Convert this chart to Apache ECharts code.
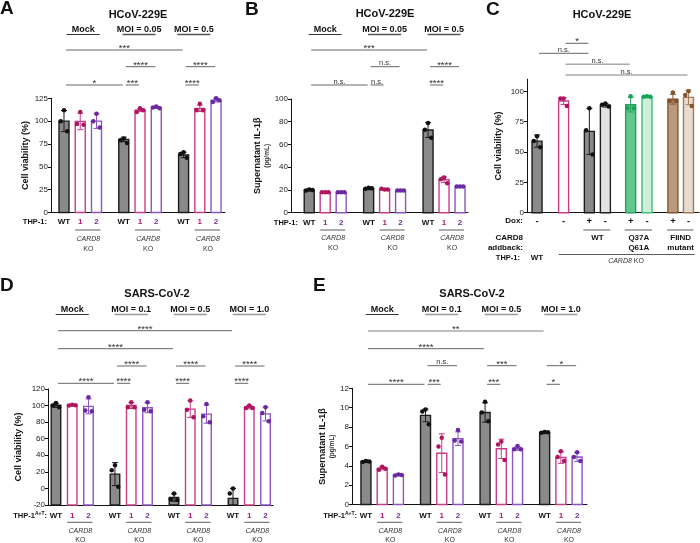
<!DOCTYPE html>
<html>
<head>
<meta charset="utf-8">
<title>CARD8 viability / IL-1b</title>
<script src="https://cdn.jsdelivr.net/npm/echarts@6/dist/echarts.min.js"></script>
<style>
  html, body { margin: 0; padding: 0; background: #fff; }
  #main { width: 700px; height: 543px; }
</style>
</head>
<body>
<div id="main"></div>
<script>
// ---------- data ----------
// A: HCoV-229E, cell viability (%)  (order: WT, KO1, KO2 per group)
const groupsA = ['Mock', 'MOI = 0.05', 'MOI = 0.5'];
const viabilityA = [100, 99.7, 100, 80, 112, 115, 63, 114, 123];
const viabilitySdA = [11.5, 9, 8, 2.5, 1.5, 1, 3, 3.5, 2];
const viabilityPtsA = [[112, 100, 89], [110, 97, 96], [108, 100, 93], [81, 79, 76], [114, 110, 112], [116, 115, 114], [66, 64, 60], [119, 112, 112], [125, 121, 123]];
const starsA = [['***', 0, 6, 0], ['****', 3, 5, 1], ['****', 6, 8, 1], ['*', 0, 3, 2], ['***', 3, 4, 2], ['****', 6, 7, 2]];

// B: HCoV-229E, supernatant IL-1β (pg/mL)
const il1bB = [20, 18, 18, 21, 20.5, 19.5, 72.7, 29, 23];
const il1bSdB = [0.6, 0.3, 0.3, 0.8, 0.5, 0.4, 6.5, 2.5, 0.5];
const il1bPtsB = [[20.5, 19.5, 20], [18, 18, 18], [18, 18, 18], [22, 21, 21.5], [20.5, 21, 20.5], [19.5, 19.5, 19.5], [79, 73, 66], [31, 29.5, 26], [23, 23, 23]];
const starsB = [['***', 0, 6, 0], ['n.s.', 3, 5, 1], ['****', 6, 8, 1], ['n.s.', 0, 3, 2], ['n.s.', 3, 4, 2], ['****', 6, 7, 2]];

// C: HCoV-229E, CARD8 addback, cell viability (%)
const viabilityC = [59, 92, 67, 88.5, 89, 95.5, 93.5, 95];
const viabilitySdC = [5, 2.8, 19, 1.5, 6, 0.6, 4, 6];
const viabilityPtsC = [[63, 59, 54], [94, 94, 88], [86, 68, 48], [90, 89, 87.5], [96, 86, 86], [96, 95.5, 95.5], [99, 92, 92], [100, 97, 88]];
const doxC = ['-', '-', '+', '-', '+', '-', '+', '-'];
const addbackC = [['WT'], ['Q37A', 'Q61A'], ['FIIND', 'mutant']];
const starsC = [['*', 1, 2, 0], ['n.s.', 0, 2, 1], ['n.s.', 1, 4, 2], ['n.s.', 1, 7, 3]];

// D: SARS-CoV-2, cell viability (%)
const groupsDE = ['Mock', 'MOI = 0.1', 'MOI = 0.5', 'MOI = 1.0'];
const viabilityD = [100.3, 100.5, 99, 17.3, 100, 97.3, -11, 95.7, 89.7, -12, 98, 90];
const viabilitySdD = [2.5, 0.6, 9, 13.9, 3.5, 6, 4.5, 10, 11, 12, 2, 8.5];
const viabilityPtsD = [[103, 100, 98], [101, 100, 100.5], [110, 94, 93], [28, 22, 2], [104, 98, 98], [104, 95, 93], [-6, -13, -14], [106, 95, 86], [102, 87, 80], [0, -6, -30], [100, 97, 97], [98, 91, 81]];
const starsD = [['****', 0, 9, 0], ['****', 0, 6, 1], ['****', 3, 5, 2], ['****', 6, 8, 2], ['****', 9, 11, 2], ['****', 0, 3, 3], ['****', 3, 4, 3], ['****', 6, 7, 3], ['****', 9, 10, 3]];

// E: SARS-CoV-2, supernatant IL-1β (pg/mL)
const il1bE = [4.45, 3.73, 3.05, 9.2, 5.3, 6.8, 9.5, 5.75, 5.8, 7.45, 4.85, 4.9];
const il1bSdE = [0.08, 0.15, 0.06, 0.65, 2.0, 0.7, 1.0, 1.0, 0.2, 0.06, 0.6, 0.45];
const il1bPtsE = [[4.5, 4.4, 4.45], [3.9, 3.6, 3.7], [3.1, 3.0, 3.05], [9.8, 9.6, 8.3], [6.9, 6.0, 3.1], [7.7, 6.6, 6.5], [10.6, 9.5, 8.6], [6.5, 6.2, 4.6], [6.05, 5.7, 5.7], [7.5, 7.4, 7.45], [5.5, 4.9, 4.5], [5.4, 4.9, 4.5]];
const starsE = [['**', 0, 9, 0], ['****', 0, 6, 1], ['n.s.', 3, 5, 2], ['***', 6, 8, 2], ['*', 9, 11, 2], ['****', 0, 3, 3], ['***', 3, 4, 3], ['***', 6, 7, 3], ['*', 9, 10, 3]];

const lineLabels = ['WT', '1', '2'];

// ---------- styles / layout ----------
const FONT = '"Liberation Sans", Arial, Helvetica, sans-serif';
const KIND = {
  WT:  { fill: '#8a8a8a', stroke: '#1c1c1c', dot: '#111111' },
  KO1: { fill: '#ffffff', stroke: '#c83e88', dot: '#b0145f' },
  KO2: { fill: '#ffffff', stroke: '#8b55c2', dot: '#6b28a3' },
  LG:  { fill: '#e3e3e3', stroke: '#222222', dot: '#111111' },
  GN:  { fill: '#63c790', stroke: '#27a05c', dot: '#14a555' },
  LGN: { fill: '#cdeedb', stroke: '#3fc075', dot: '#14a555' },
  BR:  { fill: '#b99a7e', stroke: '#87572f', dot: '#84522a' },
  LBR: { fill: '#e8dcd1', stroke: '#a87a52', dot: '#84522a' }
};
const LABEL_COLORS = ['#111111', '#b8186a', '#7030a0'];
const JIT = [0, -0.2, 0.2];

function triPos(n, step) {
  const out = [];
  for (let g = 0; g < n; g++) for (let j = 0; j < 3; j++) out.push(g * step + j);
  return out;
}
function triKinds(n) {
  const out = [];
  for (let g = 0; g < n; g++) out.push('WT', 'KO1', 'KO2');
  return out;
}

function text(str, x, y, o) {
  o = o || {};
  const al = o.align || 'center', va = o.va || 'middle';
  return {
    type: 'text',
    style: {
      text: str, x: x, y: y,
      fill: o.color || '#111',
      fontSize: o.size || 7.5,
      fontWeight: o.weight || 'bold',
      fontStyle: o.italic ? 'italic' : 'normal',
      fontFamily: FONT,
      align: al, verticalAlign: va,
      textAlign: al, textVerticalAlign: va,
      rich: o.rich
    }
  };
}
function hline(x1, x2, y, color, w) {
  return { type: 'line', shape: { x1: x1, y1: y, x2: x2, y2: y }, style: { stroke: color || '#555', lineWidth: w || 0.9 } };
}

const THP_RICH = {
  b: { fontSize: 7.5, fontWeight: 'bold', fontFamily: FONT, fill: '#111', color: '#111' },
  s: { fontSize: 5, fontWeight: 'bold', fontFamily: FONT, fill: '#111', color: '#111', padding: [0, 0, 4, 0] }
};
const KO_RICH = {
  i: { fontSize: 7, fontStyle: 'italic', fontFamily: FONT, fill: '#333', color: '#333' },
  n: { fontSize: 7, fontFamily: FONT, fill: '#333', color: '#333' }
};

const panels = [
  {
    grid: { left: 51, top: 98.3, width: 174, height: 114.2 }, xr: [-0.8, 9.91], yr: [0, 125, 25],
    pos: triPos(3, 3.68), kinds: triKinds(3), means: viabilityA, sds: viabilitySdA, pts: viabilityPtsA,
    stars: starsA, levels: [50, 66.7, 85], lightStars: [],
    groups: groupsA, groupY: 30, ulY: 34.5, ulColor: '#555', labelShift: [3, -1, -6],
    rowY: 222, lineY: 230, cardY: 239, koY: 249, thpX: 47, thp: 'THP-1:',
    yName: 'Cell viability (%)', nameGap: 21, barW: 10
  },
  {
    grid: { left: 291, top: 99, width: 177, height: 113.7 }, xr: [-1.14, 9.94], yr: [0, 100, 20],
    pos: triPos(3, 3.72), kinds: triKinds(3), means: il1bB, sds: il1bSdB, pts: il1bPtsB,
    stars: starsB, levels: [50, 66.7, 85], lightStars: [],
    groups: groupsA, groupY: 30, ulY: 34.5, ulColor: '#555', labelShift: [0, 0, 0],
    rowY: 222.5, lineY: 230, cardY: 238.5, koY: 248.5, thpX: 298, thp: 'THP-1:',
    yName: '{a|Supernatant IL-1β}\n{b|(pg/mL)}', nameGap: 12, barW: 10
  },
  {
    grid: { left: 527, top: 79.2, width: 172, height: 133.5 }, xr: [-0.62, 10.0], yr: [0, 110, 25],
    pos: [0, 1.64, 3.23, 4.22, 5.78, 6.79, 8.39, 9.35],
    kinds: ['WT', 'KO1', 'WT', 'LG', 'GN', 'LGN', 'BR', 'LBR'],
    means: viabilityC, sds: viabilitySdC, pts: viabilityPtsC,
    stars: starsC, levels: [43.3, 53.3, 64.3, 75], lightStars: [2, 3],
    yName: 'Cell viability (%)', nameGap: 24, barW: 10, ticks: [0, 25, 50, 75, 100], isC: true
  },
  {
    grid: { left: 48, top: 389, width: 225, height: 116 }, xr: [-0.49, 13.35], yr: [-20, 120, 20],
    pos: triPos(4, 3.63), kinds: triKinds(4), means: viabilityD, sds: viabilitySdD, pts: viabilityPtsD,
    stars: starsD, levels: [330.7, 348.7, 366, 383.3], lightStars: [],
    groups: groupsDE, groupY: 309.3, ulY: 314.5, ulColor: '#999', labelShift: [0, 0, 0, 0],
    rowY: 516, lineY: 522.3, cardY: 531, koY: 540, thpX: 47, thp: '{b|THP-1}{s|A+T}{b|:}',
    yName: 'Cell viability (%)', nameGap: 25, barW: 9.5
  },
  {
    grid: { left: 352, top: 388.3, width: 235, height: 116.2 }, xr: [-0.86, 13.62], yr: [0, 12, 2],
    pos: triPos(4, 3.67), kinds: triKinds(4), means: il1bE, sds: il1bSdE, pts: il1bPtsE,
    stars: starsE, levels: [331, 348.7, 365.7, 384.3], lightStars: [0],
    groups: groupsDE, groupY: 309.3, ulY: 314.5, ulColor: '#999', labelShift: [0, 0, 0, 0],
    rowY: 516, lineY: 522.3, cardY: 531, koY: 540, thpX: 357, thp: '{b|THP-1}{s|A+T}{b|:}',
    yName: '{a|Supernatant IL-1β}\n{b|(pg/mL)}', nameGap: 12, barW: 10
  }
];

// ---------- render helpers ----------
function barItem(p) {
  return function (params, api) {
    const k = KIND[p.kinds[params.dataIndex]];
    const x = api.value(0), m = api.value(1), sd = api.value(2);
    const base = api.coord([x, p.yr[0]]);
    const top = api.coord([x, m]);
    const hi = api.coord([x, m + sd]);
    const lo = api.coord([x, Math.max(m - sd, p.yr[0])]);
    const hw = p.barW / 2, cw = 3;
    const ls = { stroke: k.stroke, lineWidth: 1 };
    const ch = [
      { type: 'rect', shape: { x: top[0] - hw, y: top[1], width: hw * 2, height: base[1] - top[1] },
        style: { fill: k.fill, stroke: k.stroke, lineWidth: 1.4 } },
      { type: 'line', shape: { x1: hi[0], y1: hi[1], x2: lo[0], y2: lo[1] }, style: ls },
      { type: 'line', shape: { x1: hi[0] - cw, y1: hi[1], x2: hi[0] + cw, y2: hi[1] }, style: ls }
    ];
    if (m - sd > p.yr[0]) ch.push({ type: 'line', shape: { x1: lo[0] - cw, y1: lo[1], x2: lo[0] + cw, y2: lo[1] }, style: ls });
    return { type: 'group', children: ch };
  };
}

function bracketItem(p) {
  return function (params, api) {
    const i = params.dataIndex, s = p.stars[i];
    const a = api.coord([api.value(0), 0])[0] + 2;
    const b = api.coord([api.value(1), 0])[0] - 1;
    const y = p.levels[s[3]];
    const light = p.lightStars.indexOf(i) >= 0;
    const ns = s[0] === 'n.s.';
    return {
      type: 'group',
      children: [
        hline(a, b, y, light ? '#aaa' : '#555', light ? 1.6 : 0.9),
        text(s[0], (a + b) / 2, ns ? y + 0.5 : y + 3.2,
          { size: ns ? 7.5 : 9.5, weight: 'normal', color: '#333', va: 'bottom' })
      ]
    };
  };
}

function groupItem(p) {
  return function (params, api) {
    const gi = params.dataIndex;
    const xs = [0, 1, 2].map(j => api.coord([api.value(j), 0])[0]);
    const cx = xs[1] + p.labelShift[gi];
    const ch = [
      text(p.groups[gi], cx, p.groupY, { size: 9 }),
      hline(cx - 16.5, cx + 16.5, p.ulY, gi === 0 ? '#333' : p.ulColor, gi === 0 ? 1 : 1.4)
    ];
    lineLabels.forEach((l, j) => ch.push(text(l, xs[j], p.rowY, { color: LABEL_COLORS[j], size: 8 })));
    const mid = (xs[1] + xs[2]) / 2;
    ch.push(hline(xs[1] - 5, xs[2] + 4, p.lineY, '#333', 0.8));
    ch.push(text('CARD8', mid, p.cardY, { size: 7, weight: 'normal', italic: true, color: '#333' }));
    ch.push(text('KO', mid, p.koY, { size: 7, weight: 'normal', color: '#333' }));
    if (gi === 0) ch.push(text(p.thp, p.thpX, p.rowY, { align: 'right', rich: THP_RICH }));
    return { type: 'group', children: ch };
  };
}

const addbackPairs = [[2, 3], [4, 5], [6, 7]];
function cAxisItem(p) {
  return function (params, api) {
    const i = params.dataIndex;
    const px = k => api.coord([p.pos[k], 0])[0];
    const x = px(i);
    const ch = [text(doxC[i], x, 221, { size: 9.5 })];
    if (i === 0) {
      ch.push(text('Dox:', 523, 221, { align: 'right', size: 8 }));
      ch.push(text('CARD8', 523, 238, { align: 'right', size: 8 }));
      ch.push(text('addback:', 523, 248, { align: 'right', size: 8 }));
      ch.push(text('THP-1:', 520, 258, { align: 'right' }));
      ch.push(text('WT', x, 258, { size: 8 }));
      ch.push(hline(px(1) - 5, px(7) + 6, 254.5, '#333', 0.8));
      ch.push(text('{i|CARD8} {n|KO}', (px(1) + px(7)) / 2, 261.5, { rich: KO_RICH, weight: 'normal', size: 7 }));
    }
    addbackPairs.forEach((pr, n) => {
      if (pr[1] !== i) return;
      const a = px(pr[0]), b = px(pr[1]), mid = (a + b) / 2;
      ch.push(hline(a - 6, b + 5, 230, '#333', 0.8));
      addbackC[n].forEach((t, r) => ch.push(text(t, mid, 238 + r * 10, { size: 8 })));
    });
    return { type: 'group', children: ch };
  };
}

// ---------- build option ----------
const grids = [], xAxes = [], yAxes = [], series = [];
panels.forEach((p, idx) => {
  grids.push(Object.assign({ containLabel: false, outerBoundsMode: 'none' }, p.grid));
  xAxes.push({
    type: 'value', gridIndex: idx, min: p.xr[0], max: p.xr[1],
    axisLine: { onZero: false, lineStyle: { color: '#111', width: 1.1 } },
    axisTick: { show: false }, axisLabel: { show: false }, splitLine: { show: false }
  });
  const yAx = {
    type: 'value', gridIndex: idx, min: p.yr[0], max: p.yr[1], interval: p.yr[2],
    name: p.yName, nameLocation: 'middle', nameRotate: 90, nameGap: p.nameGap,
    nameTextStyle: {
      fontSize: 9, fontWeight: 'bold', color: '#111', fontFamily: FONT,
      rich: {
        a: { fontSize: 9, fontWeight: 'bold', color: '#111', fontFamily: FONT, lineHeight: 11 },
        b: { fontSize: 6.5, color: '#333', fontFamily: FONT, lineHeight: 9 }
      }
    },
    axisLine: { show: true, onZero: false, lineStyle: { color: '#111', width: 1 } },
    axisTick: { show: true, length: 3, lineStyle: { color: '#111' } },
    axisLabel: { fontSize: 8, color: '#222', margin: 3, fontFamily: FONT },
    splitLine: { show: false }
  };
  if (p.ticks) {
    yAx.axisLabel.customValues = p.ticks;
    yAx.axisTick.customValues = p.ticks;
    yAx.axisLabel.formatter = v => (p.ticks.indexOf(v) >= 0 ? String(v) : '');
  }
  yAxes.push(yAx);

  series.push({
    type: 'custom', xAxisIndex: idx, yAxisIndex: idx, z: 2, clip: false, silent: true,
    renderItem: barItem(p), encode: { x: 0, y: 1 },
    data: p.means.map((m, i) => [p.pos[i], m, p.sds[i]])
  });
  const dots = [];
  p.pts.forEach((arr, i) => arr.forEach((v, j) => dots.push({
    value: [p.pos[i] + JIT[j], v], itemStyle: { color: KIND[p.kinds[i]].dot, opacity: 1 }
  })));
  series.push({
    type: 'scatter', xAxisIndex: idx, yAxisIndex: idx, z: 3, clip: true, silent: true,
    symbolSize: 4.5, data: dots
  });
  series.push({
    type: 'custom', xAxisIndex: idx, yAxisIndex: idx, z: 4, clip: false, silent: true,
    renderItem: bracketItem(p), encode: { x: [0, 1], y: 2 },
    data: p.stars.map(s => [p.pos[s[1]], p.pos[s[2]], p.yr[0]])
  });
  if (p.isC) {
    series.push({
      type: 'custom', xAxisIndex: idx, yAxisIndex: idx, z: 4, clip: false, silent: true,
      renderItem: cAxisItem(p), encode: { x: 0, y: 1 },
      data: p.pos.map(x => [x, p.yr[0]])
    });
  } else {
    series.push({
      type: 'custom', xAxisIndex: idx, yAxisIndex: idx, z: 4, clip: false, silent: true,
      renderItem: groupItem(p), encode: { x: [0, 1, 2], y: 3 },
      data: p.groups.map((g, gi) => [p.pos[gi * 3], p.pos[gi * 3 + 1], p.pos[gi * 3 + 2], p.yr[0]])
    });
  }
});

function gtext(str, x, y, size, align) {
  return {
    type: 'text', x: x, y: y, silent: true,
    style: {
      text: str, fill: '#111', fontSize: size, fontWeight: 'bold', fontFamily: FONT,
      align: align || 'center', verticalAlign: 'middle',
      textAlign: align || 'center', textVerticalAlign: 'middle'
    }
  };
}

const chart = echarts.init(document.getElementById('main'), null, { renderer: 'canvas' });
chart.setOption({
  animation: false,
  backgroundColor: '#ffffff',
  grid: grids,
  xAxis: xAxes,
  yAxis: yAxes,
  series: series,
  graphic: [
    gtext('A', 0, 9, 19, 'left'),
    gtext('B', 245, 10, 19, 'left'),
    gtext('C', 486, 9.5, 19, 'left'),
    gtext('D', 0, 286, 19, 'left'),
    gtext('E', 313, 286, 19, 'left'),
    gtext('HCoV-229E', 138, 15, 11),
    gtext('HCoV-229E', 385, 14, 11),
    gtext('HCoV-229E', 602, 15, 11),
    gtext('SARS-CoV-2', 157, 294, 11),
    gtext('SARS-CoV-2', 472, 293.5, 11)
  ]
});
</script>
</body>
</html>
